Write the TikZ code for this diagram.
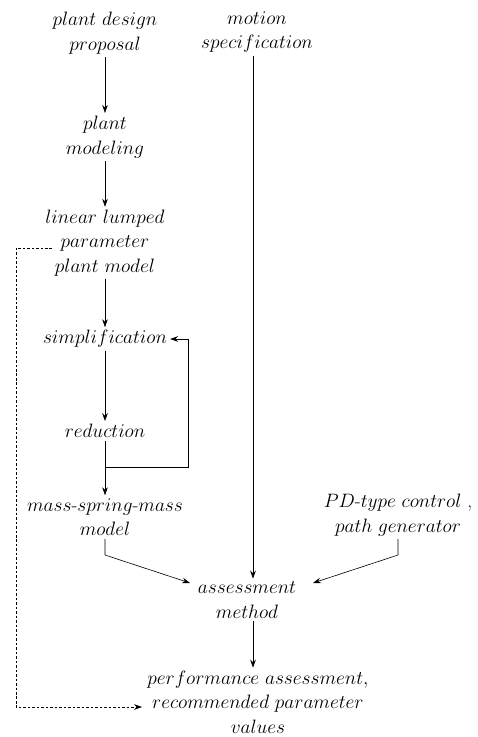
\documentclass[tikz,border=0pt]{standalone}
\usetikzlibrary{arrows.meta}
\begin{document}
\begin{tikzpicture}[x=1.07pt,y=-1.07pt,
 lbl/.style={align=center,font=\fontsize{20.74}{26.2}\selectfont,inner sep=3.2pt},
 conn/.style={-{Stealth[length=8.5pt,width=6pt]},line width=0.65pt},
 dashconn/.style={dash pattern=on 2.7pt off 2.1pt,line width=0.55pt,-{Stealth[length=8.5pt,width=6pt]}}]
\useasboundingbox (0,0) rectangle (478,737);
\node[lbl] (prop) at (105,33) {$plant\ design$\\$proposal$};
\node[lbl] (motion) at (257,32) {$motion$\\$specification$};
\node[lbl] (model) at (105,137) {$plant$\\$modeling$};
\node[lbl] (linear) at (105,243) {$linear\ lumped$\\$parameter$\\$plant\ model$};
\node[lbl] (simp) at (105,339) {$simplification$};
\node[lbl] (red) at (105,431) {$reduction$};
\node[lbl] (msm) at (105,517) {$mass$-$spring$-$mass$\\$model$};
\node[lbl] (pd) at (398,515) {$PD$-$type\ control$ ,\\$path\ generator$};
\node[lbl] (assess) at (247,600) {$assessment$\\$method$};
\node[lbl] (perf) at (258,702) {$performance\ assessment,$\\$recommended\ parameter$\\$values$};
\coordinate (xa) at (253,0);
\coordinate (fb1) at (105,467);
\coordinate (fb2) at (188,467);
\coordinate (fb3) at (188,339);
\coordinate (m1) at (105,555);
\coordinate (p1) at (398,555);
\coordinate (ain) at (190,583);
\coordinate (bin) at (313,583);
\coordinate (d0) at (52,248);
\coordinate (d1) at (16,248);
\coordinate (d2) at (16,707);
\coordinate (d3) at (142,707);
\draw[conn] (prop) -- (model);
\draw[conn] (model) -- (linear);
\draw[conn] (linear) -- (simp);
\draw[conn] (simp) -- (red);
\draw[conn] (red) -- (msm);
\draw[conn] (fb1) -- (fb2) -- (fb3) -- (simp.east);
\draw[conn] (motion.south -| xa) -- (assess.north -| xa);
\draw[conn] (msm.south) -- (m1) -- (ain);
\draw[conn] (pd.south) -- (p1) -- (bin);
\draw[conn] (assess.south -| xa) -- (perf.north -| xa);
\draw[dashconn] (d0) -- (d1) -- (d2) -- (d3);
\end{tikzpicture}
\end{document}
